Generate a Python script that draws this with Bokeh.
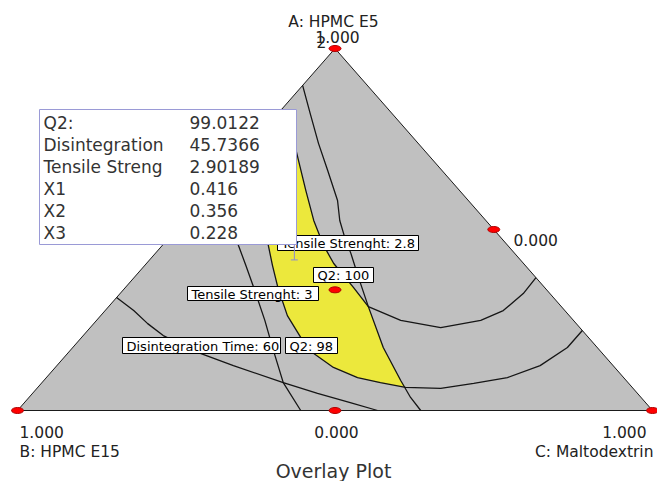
import numpy as np
from bokeh.plotting import figure
from bokeh.models import Range1d
from bokeh.core.properties import value
from bokeh.embed import file_html
from bokeh.resources import INLINE

# ---------------- data (mixture fractions: A = HPMC E5, C = Maltodextrin, B = 1-A-C) -------------
design_A = [1.0, 0.0, 0.0, 0.5, 0.5, 0.0, 1 / 3]
design_C = [0.0, 0.0, 1.0, 0.5, 0.0, 0.5, 1 / 3]

q2_98_A = [0.677, 0.594, 0.525, 0.456, 0.401, 0.340, 0.262, 0.202, 0.158, 0.119, 0.091, 0.077, 0.064,
           0.061, 0.075, 0.091, 0.124, 0.174, 0.221]
q2_98_C = [0.000, 0.078, 0.123, 0.167, 0.201, 0.240, 0.294, 0.345, 0.387, 0.438, 0.490, 0.533, 0.579,
           0.636, 0.681, 0.726, 0.761, 0.779, 0.779]

q2_100_A = [0.834, 0.760, 0.691, 0.608, 0.525, 0.456, 0.406, 0.340, 0.287, 0.249, 0.229, 0.249, 0.276,
            0.323, 0.367]
q2_100_C = [0.000, 0.053, 0.097, 0.150, 0.204, 0.254, 0.295, 0.359, 0.409, 0.479, 0.552, 0.605, 0.627,
            0.635, 0.633]

ts28_A = [0.898, 0.820, 0.738, 0.663, 0.580, 0.525, 0.483, 0.434, 0.365, 0.287, 0.174, 0.083, 0.036, 0.000]
ts28_C = [0.000, 0.051, 0.105, 0.157, 0.214, 0.245, 0.273, 0.308, 0.355, 0.409, 0.489, 0.562, 0.601, 0.635]

ts3_A = [0.630, 0.539, 0.456, 0.401, 0.340, 0.249, 0.166, 0.077, 0.000]
ts3_C = [0.000, 0.063, 0.120, 0.159, 0.202, 0.265, 0.320, 0.380, 0.446]

dt60_A = [0.312, 0.276, 0.240, 0.207, 0.158, 0.124, 0.077, 0.047, 0.022, 0.000]
dt60_C = [0.000, 0.045, 0.085, 0.126, 0.209, 0.278, 0.380, 0.449, 0.513, 0.567]

contour_labels = ["Tensile Strenght: 2.8", "Q2: 100", "Tensile Strenght: 3", "Disintegration Time: 60", "Q2: 98"]

tooltip_names = ["Q2:", "Disintegration", "Tensile Streng", "X1", "X2", "X3"]
tooltip_values = ["99.0122", "45.7366", "2.90189", "0.416", "0.356", "0.228"]
sel_A, sel_B, sel_C = 0.416, 0.356, 0.228

# ---------------- layout helpers (pixel -> plot units) ----------------
def fx(px):
    return (px - 17) / 635.0


def fy(py):
    return (410 - py) / 362.0


def to_xy(A, C):
    A = np.asarray(A, dtype=float)
    C = np.asarray(C, dtype=float)
    return C + A / 2.0, A


W, H = 657, 481
p = figure(width=W, height=H, x_range=Range1d(fx(0), fx(W)), y_range=Range1d(fy(H), fy(0)),
           x_axis_type=None, y_axis_type=None, toolbar_location=None, output_backend="svg",
           min_border=0, outline_line_color=None, background_fill_color="white",
           border_fill_color="white")

FONT = value("DejaVu Sans")

# triangle
tx, ty = to_xy([0, 1, 0], [0, 0, 1])
p.patch(tx, ty, fill_color="#c0c0c0", line_color="#1a1a1a", line_width=1)

# yellow feasible region
k98 = 12
yA = list(q2_98_A[:k98 + 1]) + [ts28_A[11], ts28_A[10]] + list(q2_100_A[:9][::-1])
yC = list(q2_98_C[:k98 + 1]) + [ts28_C[11], ts28_C[10]] + list(q2_100_C[:9][::-1])
yx, yy = to_xy(yA, yC)
p.patch(yx, yy, fill_color="#ece83c", line_color=None)

# contours
for A, C in [(q2_98_A, q2_98_C), (q2_100_A, q2_100_C), (ts28_A, ts28_C), (ts3_A, ts3_C), (dt60_A, dt60_C)]:
    cx, cy = to_xy(A, C)
    p.line(cx, cy, line_color="#151515", line_width=1.3)

# design points
dx, dy = to_xy(design_A, design_C)
p.ellipse(dx, dy, width=12, height=6, width_units="screen", height_units="screen",
          fill_color="#ff0000", line_color="#b00000", line_width=1)

# contour labels (boxes in pixels: left, right, top, bottom)
label_boxes = [(277, 418, 235, 250), (313, 373, 267, 282), (187, 318, 286, 300),
               (122, 280, 337, 353), (285, 337, 337, 353)]
for txt, (l, r, t, b) in zip(contour_labels, label_boxes):
    p.quad(left=[fx(l)], right=[fx(r)], top=[fy(t)], bottom=[fy(b)],
           fill_color="white", line_color="black", line_width=1)
    p.text(x=[fx(l + 4)], y=[fy((t + b) / 2 + 0.5)], text=[txt], text_font=FONT, text_font_size="13px",
           text_baseline="middle", text_align="left", text_color="black")

# tooltip box
p.quad(left=[fx(39)], right=[fx(296)], top=[fy(109)], bottom=[fy(244)],
       fill_color="white", line_color="#9a9ad6", line_width=1)
sx, sy = to_xy([sel_A], [sel_C])
p.segment(x0=sx, y0=[fy(244)], x1=sx, y1=sy, line_color="#8c8cd0", line_width=1)
p.scatter(sx, sy, marker="dash", size=7, line_color="#8c8cd0")
rows_y = [122, 144, 166, 188, 210, 232]
p.text(x=[fx(43)] * 6, y=[fy(v) for v in rows_y], text=tooltip_names, text_font=FONT,
       text_font_size="17px", text_baseline="middle", text_align="left", text_color="#333333")
p.text(x=[fx(189)] * 6, y=[fy(v) for v in rows_y], text=tooltip_values, text_font=FONT,
       text_font_size="17px", text_baseline="middle", text_align="left", text_color="#333333")

# axis / vertex texts
def txt(x, y, s, align="left", size="15.5px", color="#222222"):
    p.text(x=[fx(x)], y=[fy(y)], text=[s], text_font=FONT, text_font_size=size,
           text_baseline="middle", text_align=align, text_color=color)


txt(333, 21, "A: HPMC E5", "center")
txt(316, 41.5, "2")
txt(337, 36.5, "1.000", "center")
txt(513, 239, "0.000")
txt(19, 431, "1.000")
txt(19, 451, "B: HPMC E15")
txt(336, 431, "0.000", "center")
txt(646, 431, "1.000", "right")
txt(653, 451, "C: Maltodextrin", "right")
txt(333, 470, "Overlay Plot", "center", size="19px", color="#333333")

open("out.html", "w").write(file_html(p, INLINE))
